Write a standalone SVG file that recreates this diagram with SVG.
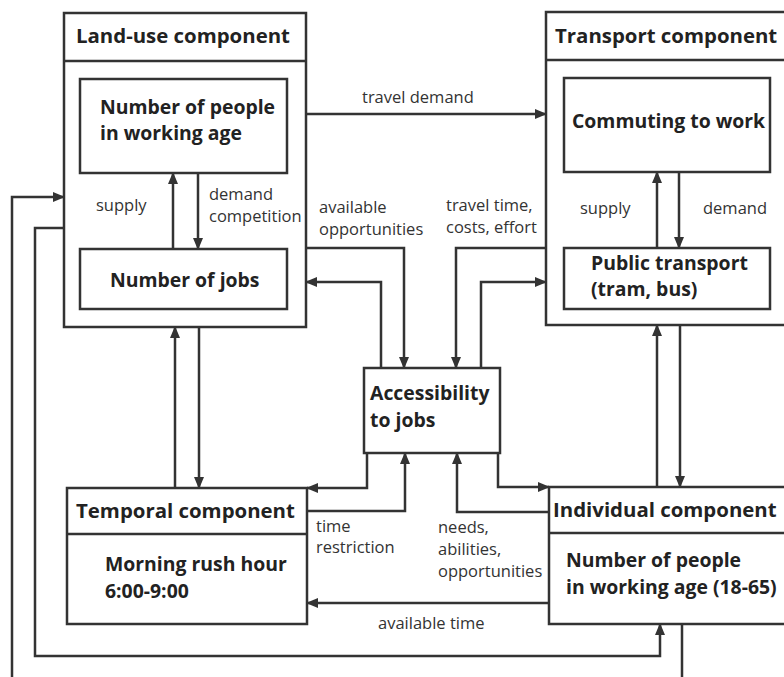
<svg xmlns="http://www.w3.org/2000/svg" width="784" height="677" viewBox="0 0 784 677">
<defs>
<marker id="ah" viewBox="0 0 12 10" refX="11" refY="5" markerWidth="12" markerHeight="10" markerUnits="userSpaceOnUse" orient="auto">
<path d="M0,0 L12,5 L0,10 z" fill="#333"/>
</marker>
<style>
.box{fill:#fff;stroke:#333;stroke-width:2.5}
.ln{fill:none;stroke:#333;stroke-width:2.5}
.con{fill:none;stroke:#333;stroke-width:2.5;marker-end:url(#ah)}
.title{font-family:"Open Sans","Noto Sans",sans-serif;font-weight:bold;font-size:20.4px;fill:#222}
.body{font-family:"Open Sans","Noto Sans",sans-serif;font-weight:bold;font-size:19.4px;fill:#222}
.lbl{font-family:"Open Sans","Noto Sans",sans-serif;font-size:16.5px;fill:#333}
</style>
</defs>
<rect width="784" height="677" fill="#fff"/>

<g id="landuse">
<rect class="box" x="64" y="13" width="242" height="314"/>
<line class="ln" x1="64" y1="61" x2="306" y2="61"/>
<text class="title" x="76" y="43">Land-use component</text>
</g>
<g id="people-lu">
<rect class="box" x="80" y="79" width="207" height="94"/>
<text class="body" x="100" y="114">Number of people</text>
<text class="body" x="100" y="140">in working age</text>
</g>
<g id="jobs">
<rect class="box" x="80" y="249" width="207" height="60"/>
<text class="body" x="110" y="287">Number of jobs</text>
</g>

<g id="transport">
<rect class="box" x="546" y="12" width="250" height="313"/>
<line class="ln" x1="546" y1="60" x2="796" y2="60"/>
<text class="title" x="555" y="43">Transport component</text>
</g>
<g id="commuting">
<rect class="box" x="564" y="78" width="206" height="94"/>
<text class="body" x="572" y="128">Commuting to work</text>
</g>
<g id="public-transport">
<rect class="box" x="564" y="248" width="206" height="61"/>
<text class="body" x="591" y="270">Public transport</text>
<text class="body" x="591" y="296">(tram, bus)</text>
</g>

<g id="accessibility">
<rect class="box" x="364" y="368" width="136" height="85"/>
<text class="body" x="370" y="400">Accessibility</text>
<text class="body" x="370" y="427">to jobs</text>
</g>

<g id="temporal">
<rect class="box" x="67" y="488" width="240" height="136"/>
<line class="ln" x1="67" y1="534" x2="307" y2="534"/>
<text class="title" x="76" y="518">Temporal component</text>
<text class="body" x="105" y="571">Morning rush hour</text>
<text class="body" x="105" y="598">6:00-9:00</text>
</g>

<g id="individual">
<rect class="box" x="549" y="487" width="250" height="137"/>
<line class="ln" x1="549" y1="533" x2="799" y2="533"/>
<text class="title" x="553" y="517">Individual component</text>
<text class="body" x="566" y="567">Number of people</text>
<text class="body" x="566" y="594">in working age (18-65)</text>
</g>

<g id="connectors">
<path class="con" d="M306,114 H546"/>
<path class="con" d="M173,249 V173"/>
<path class="con" d="M198,173 V249"/>
<path class="con" d="M657,248 V172"/>
<path class="con" d="M679,172 V248"/>
<path class="con" d="M306,248 H404 V368"/>
<path class="con" d="M381,368 V282 H306"/>
<path class="con" d="M546,248 H456 V368"/>
<path class="con" d="M481,368 V282 H546"/>
<path class="con" d="M175,488 V327"/>
<path class="con" d="M199,327 V488"/>
<path class="con" d="M657,487 V325"/>
<path class="con" d="M680,325 V487"/>
<path class="con" d="M367,453 V488 H307"/>
<path class="con" d="M307,511 H405 V453"/>
<path class="con" d="M498,453 V487 H549"/>
<path class="con" d="M549,512 H457 V453"/>
<path class="con" d="M549,603 H307"/>
<path class="con" d="M64,228 H35 V656 H660 V624"/>
<path class="con" d="M682,624 V690 H12 V197 H64"/>
</g>

<g id="labels">
<text class="lbl" x="362" y="103">travel demand</text>
<text class="lbl" x="96" y="211">supply</text>
<text class="lbl" x="209" y="200">demand</text>
<text class="lbl" x="209" y="222">competition</text>
<text class="lbl" x="319" y="213">available</text>
<text class="lbl" x="319" y="235">opportunities</text>
<text class="lbl" x="446" y="211">travel time,</text>
<text class="lbl" x="446" y="233">costs, effort</text>
<text class="lbl" x="580" y="214">supply</text>
<text class="lbl" x="703" y="214">demand</text>
<text class="lbl" x="316" y="532">time</text>
<text class="lbl" x="316" y="553">restriction</text>
<text class="lbl" x="438" y="533">needs,</text>
<text class="lbl" x="438" y="555">abilities,</text>
<text class="lbl" x="438" y="577">opportunities</text>
<text class="lbl" x="378" y="629">available time</text>
</g>
</svg>
